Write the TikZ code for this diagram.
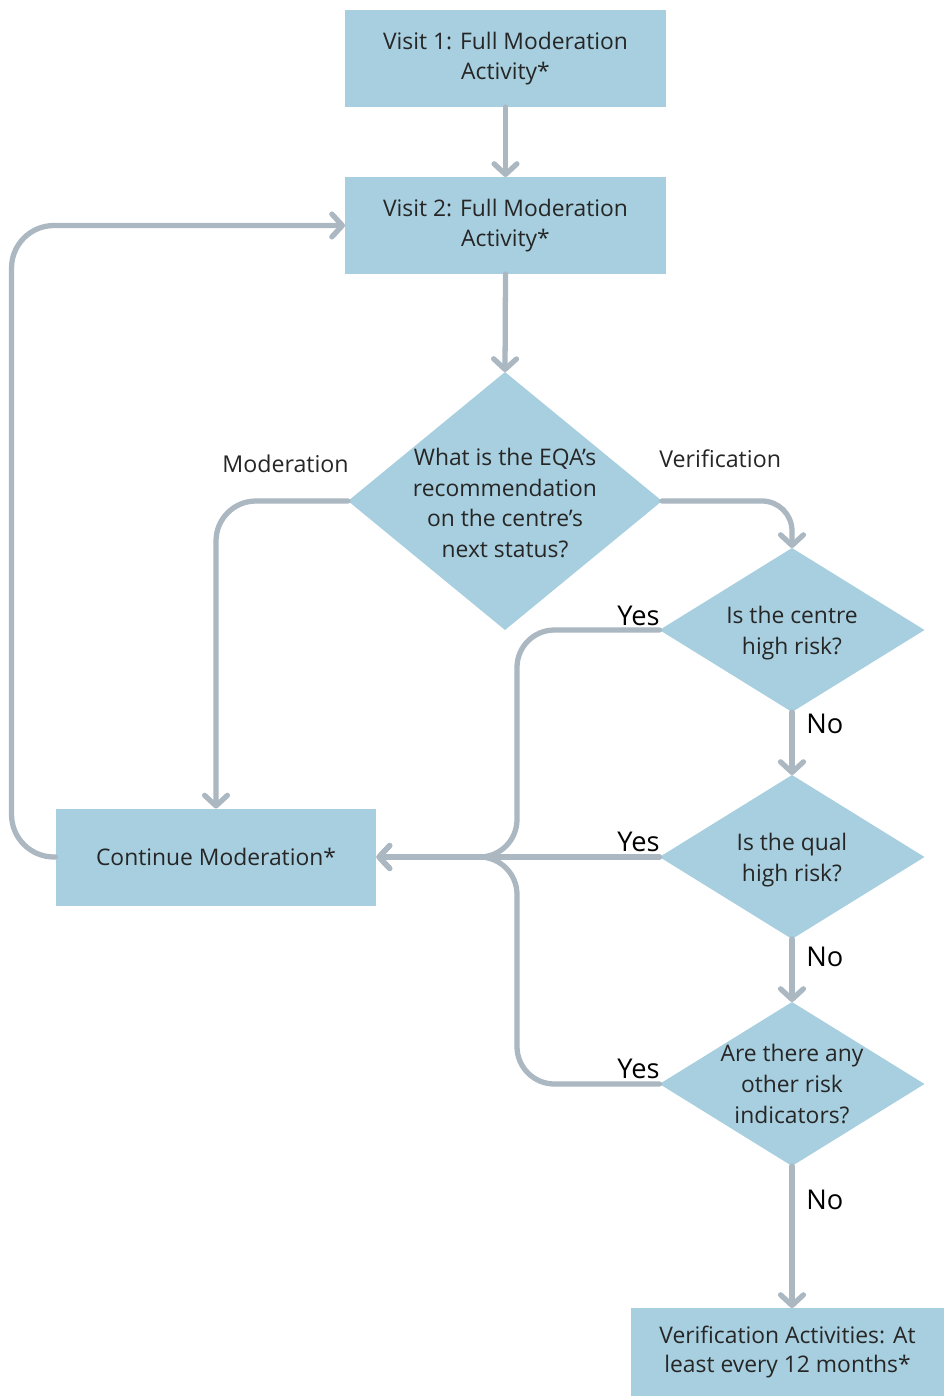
\documentclass[tikz,border=0pt]{standalone}
\usepackage{fontspec}
\setmainfont{Open Sans}
\usetikzlibrary{arrows.meta,shapes.geometric}
\definecolor{boxblue}{HTML}{A7CFDF}
\definecolor{linegray}{HTML}{ABB8C2}
\definecolor{txtcol}{HTML}{262626}
\begin{document}
\begin{tikzpicture}[x=0.02cm,y=-0.02cm,
  box/.style={rectangle, fill=boxblue, draw=none, minimum width=6.42cm, minimum height=1.94cm, inner sep=0pt, outer sep=0pt, align=center, font=\fontsize{13}{17}\selectfont, text=txtcol},
  dia/.style={diamond, fill=boxblue, draw=none, inner sep=0pt, outer sep=0pt},
  dtext/.style={align=center, font=\fontsize{13}{17.5}\selectfont, text=txtcol},
  conn/.style={draw=linegray, line width=3pt, line cap=round, line join=round, -{Straight Barb[length=6pt,width=13pt,line cap=round,line join=round]}},
  lab/.style={inner sep=0pt, font=\fontsize{13.2}{15}\selectfont, text=txtcol},
  yn/.style={inner sep=0pt, font=\fontsize{15.5}{17}\selectfont, text=black}]
\useasboundingbox (0,0) rectangle (944,1396);
\fill[white] (0,0) rectangle (944,1396);
% nodes
\node[box] (v1) at (505.5,58.5) {Visit 1: Full Moderation\\Activity*};
\node[box] (v2) at (505.5,225.5) {Visit 2: Full Moderation\\Activity*};
\node[dia, minimum width=6.28cm, minimum height=5.16cm] (d1) at (505,501) {};
\node[dtext] (t1) at ([yshift=-0.04cm]d1) {What is the EQA’s\\recommendation\\on the centre’s\\next status?};
\node[dia, minimum width=5.3cm, minimum height=3.28cm] (d2) at (792,630) {};
\node[dtext] (t2) at ([yshift=-0.06cm]d2) {Is the centre\\high risk?};
\node[dia, minimum width=5.3cm, minimum height=3.28cm] (d3) at (792,857) {};
\node[dtext] (t3) at ([yshift=-0.06cm]d3) {Is the qual\\high risk?};
\node[dia, minimum width=5.3cm, minimum height=3.28cm] (d4) at (792,1084) {};
\node[dtext] (t4) at (d4) {Are there any\\other risk\\indicators?};
\node[box] (cm) at (216,857) {Continue Moderation*};
\node[box, minimum width=6.26cm, minimum height=1.76cm] (vb) at (787.5,1352) {Verification Activities: At\\least every 12 months*};
\coordinate (m) at (517,857);
% connectors
\draw[conn] (v1.south) -- (v2.north);
\draw[conn] (v2.south) -- (d1.north);
\draw[conn, rounded corners=0.8cm] (d1.west) -| (cm.north);
\draw[conn, rounded corners=0.6cm] (d1.east) -| (d2.north);
\draw[conn, rounded corners=0.85cm] (cm.west) -- ++(-44,0) |- (v2.west);
\draw[conn, rounded corners=0.75cm] (d2.west) -| (m) -- (cm.east);
\draw[conn, rounded corners=0.75cm] (d4.west) -| (m) -- (cm.east);
\draw[conn] (d3.west) -- (cm.east);
\draw[conn] (d2.south) -- (d3.north);
\draw[conn] (d3.south) -- (d4.north);
\draw[conn] (d4.south) -- (d4.south |- vb.north);
% labels
\node[lab, anchor=base west] (lm) at (222,472) {Moderation};
\node[lab, anchor=base west] (lv) at (659,467) {Verification};
\node[yn, anchor=base east] (y1) at (660,625) {Yes};
\node[yn, anchor=base east] (y2) at (660,851) {Yes};
\node[yn, anchor=base east] (y3) at (660,1078) {Yes};
\node[yn, anchor=base west] (n1) at (806,733) {No};
\node[yn, anchor=base west] (n2) at (806,966) {No};
\node[yn, anchor=base west] (n3) at (806,1209) {No};
\end{tikzpicture}
\end{document}
